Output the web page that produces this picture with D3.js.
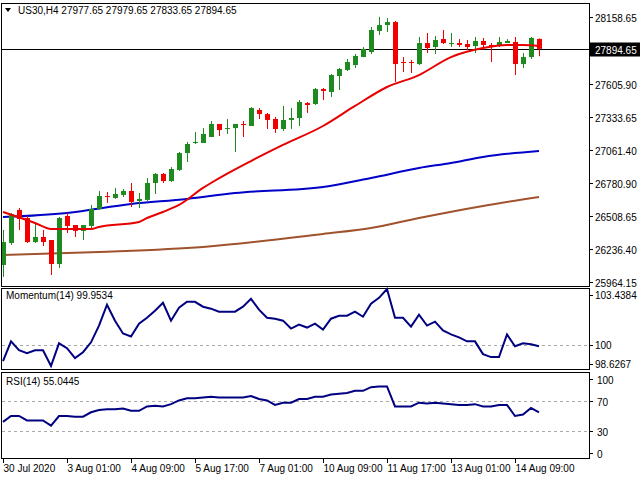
<!DOCTYPE html>
<html><head><meta charset="utf-8">
<script src="https://cdn.jsdelivr.net/npm/d3@7"></script>
<style>body{margin:0;background:#fff}svg{display:block}text{font-family:"Liberation Sans",Arial,sans-serif;font-size:10px}</style>
</head><body><svg id="c" width="640" height="480"></svg>
<script>
const title = "US30,H4  27977.65 27979.65 27833.65 27894.65";
const dateLabels = ["30 Jul 2020","3 Aug 01:00","4 Aug 09:00","5 Aug 17:00","7 Aug 01:00","10 Aug 09:00","11 Aug 17:00","13 Aug 01:00","14 Aug 09:00"];
const dateIdx = [0,8,16,24,32,40,48,56,64];
const priceTicks = [28158.65,27605.90,27333.65,27061.40,26780.90,26508.65,26236.40,25964.15];
const lastPrice = 27894.65;
// OHLC [open, high, low, close]
const candles = [
[26105,26395,26006,26295],[26287,26536,26271,26527],[26561,26577,26395,26486],[26494,26511,26287,26295],
[26295,26453,26287,26337],[26337,26395,26262,26295],[26312,26312,26022,26113],[26113,26503,26080,26494],
[26511,26536,26370,26428],[26436,26436,26337,26387],[26387,26436,26312,26436],[26428,26602,26411,26569],
[26569,26718,26561,26676],[26676,26710,26619,26668],[26660,26743,26652,26693],[26685,26734,26668,26718],
[26718,26784,26585,26627],[26635,26701,26577,26652],[26644,26825,26635,26784],[26784,26867,26693,26859],
[26859,26867,26784,26800],[26800,26916,26792,26900],[26892,27041,26883,27032],[27032,27124,26958,27107],
[27115,27206,27107,27124],[27115,27239,27115,27190],[27165,27297,27165,27273],[27273,27273,27173,27223],
[27231,27314,27190,27239],[27239,27273,27041,27273],[27273,27297,27165,27264],[27256,27413,27256,27405],
[27389,27405,27314,27355],[27355,27364,27231,27306],[27314,27331,27198,27231],[27231,27422,27215,27306],
[27306,27405,27231,27322],[27322,27471,27256,27455],[27446,27455,27364,27430],[27438,27571,27430,27562],
[27562,27571,27471,27546],[27538,27687,27496,27678],[27670,27736,27554,27728],[27720,27811,27711,27786],
[27761,27852,27736,27836],[27827,27910,27827,27894],[27869,28076,27852,28051],[28043,28159,28010,28092],
[28092,28150,28034,28117],[28117,28126,27620,27769],[27786,27827,27703,27778],[27786,27803,27695,27778],
[27769,27993,27761,27943],[27943,28026,27860,27902],[27910,28001,27852,27968],[27976,28051,27935,27943],
[27935,28026,27910,27943],[27943,27976,27910,27927],[27935,27968,27885,27910],[27918,27993,27860,27960],
[27960,27985,27885,27927],[27927,27943,27786,27910],[27927,27993,27910,27952],[27943,27976,27943,27960],
[27952,27993,27678,27769],[27769,27860,27736,27827],[27827,27993,27811,27985],[27977.65,27979.65,27833.65,27894.65]];
const maRedIdx = [0,4,6,11,12,17,18,20,22,25,26,31,35,40,44,48,52,56,60,63,65,67];
const maRed    = [26544,26453,26403,26403,26420,26461,26494,26544,26602,26743,26784,26966,27099,27256,27422,27579,27678,27827,27902,27927,27927,27918];
const maBlueIdx = [0,8,16,23,29,40,46,52,56,60,67];
const maBlue    = [26502,26536,26610,26652,26701,26751,26825,26908,26950,27000,27049];
const maBrownIdx = [0,12,25,40,46,52,60,67];
const maBrown    = [26188,26213,26254,26362,26411,26494,26594,26668];
const momentum = [99.05,100.25,99.71,99.53,99.71,99.71,98.75,100.13,99.83,99.23,99.59,100.19,101.21,102.48,101.51,100.73,100.55,101.33,101.69,102.12,
102.60,101.51,102.30,102.66,102.66,102.36,102.24,102.06,102.06,102.06,102.36,102.84,102.18,101.69,101.63,101.51,101.03,101.27,101.09,101.33,
100.97,101.63,101.81,101.81,102.06,101.75,102.54,102.90,103.44,101.69,101.69,101.15,101.87,101.21,101.45,100.91,100.67,100.49,100.25,100.25,
99.47,99.29,99.29,100.67,99.95,100.13,100.07,99.95];
const rsi = [42,50,50,44,44,44,37,50,50,49,49,55,58,59,59,60,57,57,63,64,63,66,71,74,74,75,76,75,75,75,75,77,73,71,65,68,68,73,73,76,
76,79,80,81,84,84,89,90,90,63,63,63,68,67,68,67,66,65,65,66,63,63,65,65,50,52,61,55];

const svg = d3.select("#c");
const L=1, R=589;
const x = d3.scaleLinear().domain([0,1]).range([3,11]);
const y = d3.scaleLinear().domain([25964.15,28158.65]).range([282,17]);
const ym = d3.scaleLinear().domain([98.6267,103.4384]).range([368,289]);
const yr = d3.scaleLinear().domain([0,100]).range([453,379]);

// panels
[[3,286],[288,369],[372,458]].forEach(([t,b])=>{
  svg.append("rect").attr("x",L+0.5).attr("y",t+0.5).attr("width",R-L).attr("height",b-t).attr("fill","none").attr("stroke","#000");
});
// price axis
priceTicks.forEach(v=>{
  const yy=Math.round(y(v))+0.5;
  svg.append("line").attr("x1",R).attr("x2",R+4).attr("y1",yy).attr("y2",yy).attr("stroke","#000");
  svg.append("text").attr("x",595).attr("y",yy+4).text(v.toFixed(2));
});
// current price line + label
const py=Math.round(y(lastPrice))+0.5;
svg.append("line").attr("x1",L).attr("x2",R).attr("y1",py).attr("y2",py).attr("stroke","#000");
svg.append("rect").attr("x",590).attr("y",py-7).attr("width",50).attr("height",14).attr("fill","#000");
svg.append("text").attr("x",595).attr("y",py+4).attr("fill","#fff").text(lastPrice.toFixed(2));

const clip = svg.append("clipPath").attr("id","cp").append("rect").attr("x",L+1).attr("y",4).attr("width",R-L-1).attr("height",282);
const g = svg.append("g").attr("clip-path","url(#cp)");
const maLine=(idx,vals,col)=>g.append("path").attr("d",d3.line().curve(d3.curveMonotoneX)(idx.map((k,i)=>[x(k),y(vals[i])]))).attr("fill","none").attr("stroke",col).attr("stroke-width",2);
maLine(maBrownIdx,maBrown,"#a0522d");
maLine(maBlueIdx,maBlue,"#0000c8");
const green="#1f8a1f", red="#f00000";
candles.forEach((c,i)=>{
  const [o,h,l,cl]=c, col=cl>=o?green:red, cx=Math.round(x(i))+0.5;
  g.append("line").attr("x1",cx).attr("x2",cx).attr("y1",y(h)).attr("y2",y(l)).attr("stroke",col);
  const t=Math.min(y(o),y(cl)), hh=Math.max(1,Math.abs(y(o)-y(cl)));
  g.append("rect").attr("x",cx-2.5).attr("y",t).attr("width",5).attr("height",hh).attr("fill",col);
});
maLine(maRedIdx,maRed,"#e80000");

// header
svg.append("path").attr("d","M5,8 L11,8 L8,12 Z").attr("fill","#000");
svg.append("text").attr("x",18).attr("y",14).text(title);

// momentum
const dash=(yy)=>svg.append("line").attr("x1",L+1).attr("x2",R).attr("y1",Math.round(yy)+0.5).attr("y2",Math.round(yy)+0.5).attr("stroke","#aaa").attr("stroke-dasharray","3,3");
dash(ym(100));
svg.append("path").attr("d",d3.line()(momentum.map((v,i)=>[x(i),ym(v)]))).attr("fill","none").attr("stroke","#000080").attr("stroke-width",2);
[[103.4384,295],[100,ym(100)],[98.6267,364]].forEach(([v,yy])=>{
  svg.append("line").attr("x1",R).attr("x2",R+4).attr("y1",Math.round(yy)+0.5).attr("y2",Math.round(yy)+0.5).attr("stroke","#000");
  svg.append("text").attr("x",595).attr("y",yy+4).text(v===100?"100":v.toFixed(4));
});
svg.append("text").attr("x",6).attr("y",299).text("Momentum(14) 99.9534");

// rsi
dash(yr(70)); dash(yr(30));
svg.append("path").attr("d",d3.line()(rsi.map((v,i)=>[x(i),yr(v)]))).attr("fill","none").attr("stroke","#000080").attr("stroke-width",2);
[100,70,30,0].forEach(v=>{
  const yy=Math.round(yr(v))+0.5;
  svg.append("line").attr("x1",R).attr("x2",R+4).attr("y1",yy).attr("y2",yy).attr("stroke","#000");
  svg.append("text").attr("x",597).attr("y",yy+4).text(v);
});
svg.append("text").attr("x",6).attr("y",385).text("RSI(14) 55.0445");

// dates
dateIdx.forEach((k,i)=>{
  const xx=Math.round(x(k))+0.5;
  svg.append("line").attr("x1",xx).attr("x2",xx).attr("y1",458).attr("y2",463).attr("stroke","#000");
  svg.append("text").attr("x",xx).attr("y",472).text(dateLabels[i]);
});
</script></body></html>
